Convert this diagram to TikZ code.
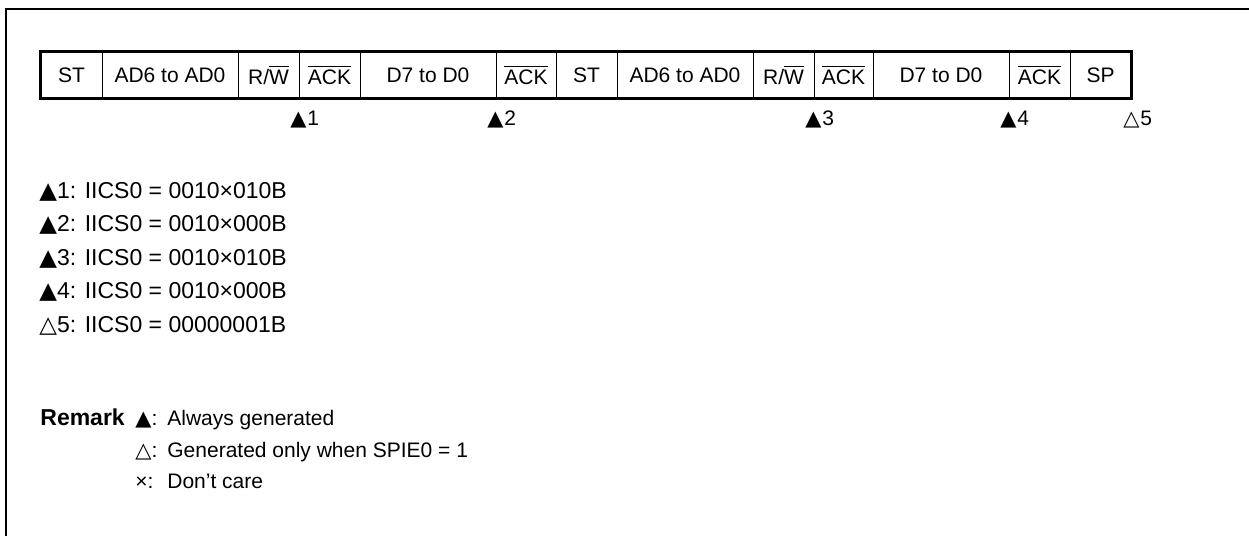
\documentclass[tikz,border=0pt]{standalone}
\usepackage{fontspec}
\setmainfont{Liberation Sans}
\newfontfamily\symfont{DejaVu Sans}
\newcommand{\ovl}[1]{$\overline{\mbox{#1}}$}
\newcommand{\tfill}{{\symfont ▲}}
\newcommand{\topen}{{\symfont △}}
\begin{document}
\begin{tikzpicture}[x=0.5pt,y=-0.5pt,
  cell/.style={draw, line width=0.5pt, minimum height=23pt, inner sep=0pt, font=\fontsize{10.5}{12}\selectfont},
  txt/.style={anchor=base west, inner sep=0pt, font=\fontsize{10.5}{12}\selectfont},
  regline/.style={anchor=base west, inner sep=0pt, font=\fontsize{11.5}{13}\selectfont},
  mk/.style={anchor=base, inner sep=0pt, font=\fontsize{10.5}{12}\selectfont},
  mknum/.style={anchor=base west, inner sep=0pt, font=\fontsize{10.5}{12}\selectfont}]
\useasboundingbox (0,0) rectangle (1249,536);
% frame
\draw[line width=1pt] (5.5,536) -- (5.5,9) -- (1249,9);
% cells
\node[cell, minimum width=30.5pt] (c1) at (71.5,75) {ST};
\node[cell, minimum width=68pt] (c2) at (170,75) {AD6 to AD0};
\node[cell, minimum width=30.5pt] (c3) at (268.5,75) {R/\ovl{W}};
\node[cell, minimum width=30.5pt] (c4) at (329.5,75) {\ovl{ACK}};
\node[cell, minimum width=68pt] (c5) at (428,75) {D7 to D0};
\node[cell, minimum width=30pt] (c6) at (526,75) {\ovl{ACK}};
\node[cell, minimum width=30.5pt] (c7) at (586.5,75) {ST};
\node[cell, minimum width=68pt] (c8) at (685,75) {AD6 to AD0};
\node[cell, minimum width=30.5pt] (c9) at (783.5,75) {R/\ovl{W}};
\node[cell, minimum width=29.5pt] (c10) at (843.5,75) {\ovl{ACK}};
\node[cell, minimum width=68pt] (c11) at (941,75) {D7 to D0};
\node[cell, minimum width=30.5pt] (c12) at (1039.5,75) {\ovl{ACK}};
\node[cell, minimum width=30.5pt] (c13) at (1100.5,75) {SP};
\draw[line width=1.2pt] (c1.north west) rectangle (c13.south east);
% markers
\node[mk] (m1) at (c4.south west |- 0,125) {\tfill};
\node[mknum] (n1) at (m1.base east) {1};
\node[mk] (m2) at (c6.south west |- 0,125) {\tfill};
\node[mknum] (n2) at (m2.base east) {2};
\node[mk] (m3) at (c10.south west |- 0,125) {\tfill};
\node[mknum] (n3) at (m3.base east) {3};
\node[mk] (m4) at (c12.south west |- 0,125) {\tfill};
\node[mknum] (n4) at (m4.base east) {4};
\node[mk] (m5) at (c13.south east |- 0,125) {\topen};
\node[mknum] (n5) at (m5.base east) {5};
% register lines
\node[regline] (l1) at (39,198) {\tfill1: IICS0 = 0010×010B};
\node[regline] (l2) at (39,231) {\tfill2: IICS0 = 0010×000B};
\node[regline] (l3) at (39,265) {\tfill3: IICS0 = 0010×010B};
\node[regline] (l4) at (39,298) {\tfill4: IICS0 = 0010×000B};
\node[regline] (l5) at (39,332) {\topen5: IICS0 = 00000001B};
% remark
\node[regline, font=\fontsize{11.5}{13}\selectfont\bfseries] (rm) at (40,425) {Remark};
\node[txt] (r1s) at (135,425) {\tfill:};
\node[txt] (r1t) at (167,425) {Always generated};
\node[txt] (r2s) at (135,457) {\topen:};
\node[txt] (r2t) at (167,457) {Generated only when SPIE0 = 1};
\node[txt] (r3s) at (135,488) {×:};
\node[txt] (r3t) at (167,488) {Don’t care};
\end{tikzpicture}
\end{document}
